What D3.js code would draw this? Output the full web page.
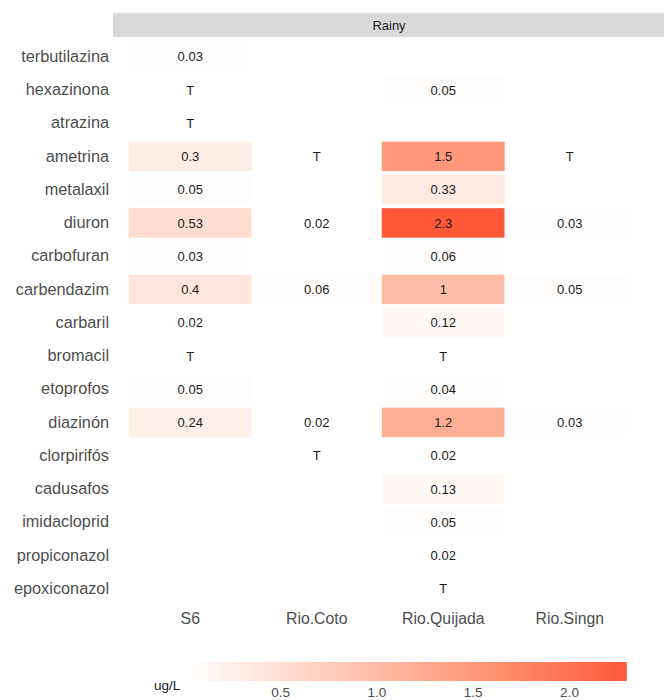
<!DOCTYPE html>
<html>
<head>
<meta charset="utf-8">
<script src="https://cdn.jsdelivr.net/npm/d3@7/dist/d3.min.js"></script>
<style>
  html, body { margin: 0; padding: 0; background: #ffffff; }
  svg { display: block; font-family: "Liberation Sans", Arial, Helvetica, sans-serif; }
</style>
</head>
<body>
<svg id="chart" width="664" height="700"></svg>
<script>
// Pesticides (rows, top to bottom) and sampling sites (columns)
const pesticides = ["terbutilazina", "hexazinona", "atrazina", "ametrina", "metalaxil", "diuron",
  "carbofuran", "carbendazim", "carbaril", "bromacil", "etoprofos", "diazinón", "clorpirifós",
  "cadusafos", "imidacloprid", "propiconazol", "epoxiconazol"];
const sites = ["S6", "Rio.Coto", "Rio.Quijada", "Rio.Singn"];

// Concentrations in ug/L per site, in pesticide order; "T" = trace, null = not detected
const valuesS6 =       [0.03, "T", "T", 0.3, 0.05, 0.53, 0.03, 0.4, 0.02, "T", 0.05, 0.24, null, null, null, null, null];
const valuesCoto =     [null, null, null, "T", null, 0.02, null, 0.06, null, null, null, 0.02, "T", null, null, null, null];
const valuesQuijada =  [null, 0.05, null, 1.5, 0.33, 2.3, 0.06, 1, 0.12, "T", 0.04, 1.2, 0.02, 0.13, 0.05, 0.02, "T"];
const valuesSingn =    [null, null, null, "T", null, 0.03, null, 0.05, null, null, null, 0.03, null, null, null, null, null];

const legendTitle = "ug/L";
const legendTicks = [0.5, 1.0, 1.5, 2.0];
const facetLabel = "Rainy";

const siteValues = [valuesS6, valuesCoto, valuesQuijada, valuesSingn];
const cells = [];
sites.forEach((s, si) => {
  siteValues[si].forEach((v, pi) => {
    if (v !== null) cells.push({ site: s, pesticide: pesticides[pi], value: v });
  });
});
const numeric = cells.filter(d => typeof d.value === "number");

const svg = d3.select("#chart");

const x = d3.scaleBand().domain(sites).range([127, 633]);
const y = d3.scaleBand().domain(pesticides).range([40.1, 605.4]);

const vExtent = d3.extent(numeric, d => d.value);
const color = d3.scaleLinear().domain(vExtent).range(["#ffffff", "#ff5838"])
  .interpolate(d3.interpolateLab);

// Facet strip
svg.append("rect").attr("x", 113).attr("y", 13).attr("width", 551).attr("height", 24)
  .attr("fill", "#d9d9d9");
svg.append("text").attr("x", 389).attr("y", 25.5).attr("dy", "0.35em")
  .attr("text-anchor", "middle").attr("font-size", 13).attr("fill", "#1a1a1a").text(facetLabel);

// Tiles
svg.append("g").selectAll("rect").data(numeric).join("rect")
  .attr("x", d => x(d.site))
  .attr("y", d => y(d.pesticide))
  .attr("width", x.bandwidth())
  .attr("height", y.bandwidth())
  .attr("fill", d => color(d.value))
  .attr("stroke", "#ffffff")
  .attr("stroke-width", 3.6);

// Cell labels
svg.append("g").selectAll("text").data(cells).join("text")
  .attr("x", d => x(d.site) + x.bandwidth() / 2)
  .attr("y", d => y(d.pesticide) + y.bandwidth() / 2)
  .attr("dy", "0.35em")
  .attr("text-anchor", "middle")
  .attr("font-size", 13)
  .attr("fill", "#1a1a1a")
  .text(d => String(d.value));

// Y axis labels
const yAxis = svg.append("g").attr("transform", "translate(127,0)")
  .call(d3.axisLeft(y).tickSize(0).tickPadding(18));
yAxis.select(".domain").remove();
yAxis.selectAll("text").attr("font-size", 16.3).attr("fill", "#4d4d4d")
  .attr("font-family", "Liberation Sans, Arial, sans-serif");

// X axis labels
const xAxis = svg.append("g").attr("transform", "translate(0,605)")
  .call(d3.axisBottom(x).tickSize(0).tickPadding(8));
xAxis.select(".domain").remove();
xAxis.selectAll("text").attr("font-size", 15.8).attr("fill", "#4d4d4d")
  .attr("font-family", "Liberation Sans, Arial, sans-serif");

// Colour bar legend
const lx = d3.scaleLinear().domain(vExtent).range([187.6, 626.8]);
const defs = svg.append("defs");
const grad = defs.append("linearGradient").attr("id", "legend-grad")
  .attr("x1", "0%").attr("x2", "100%").attr("y1", "0%").attr("y2", "0%");
d3.range(0, 1.0001, 0.1).forEach(t => {
  grad.append("stop").attr("offset", (t * 100) + "%")
    .attr("stop-color", color(vExtent[0] + t * (vExtent[1] - vExtent[0])));
});
svg.append("rect").attr("x", lx.range()[0]).attr("y", 662)
  .attr("width", lx.range()[1] - lx.range()[0]).attr("height", 19)
  .attr("fill", "url(#legend-grad)");

const lAxis = svg.append("g").attr("transform", "translate(0,681)")
  .call(d3.axisBottom(lx).tickValues(legendTicks).tickFormat(d3.format(".1f")).tickSize(0).tickPadding(6));
lAxis.select(".domain").remove();
lAxis.selectAll("text").attr("font-size", 13.5).attr("fill", "#4d4d4d")
  .attr("font-family", "Liberation Sans, Arial, sans-serif");

svg.append("text").attr("x", 154).attr("y", 685).attr("dy", "0.35em")
  .attr("font-size", 13.5).attr("fill", "#1a1a1a").text(legendTitle);
</script>
</body>
</html>
